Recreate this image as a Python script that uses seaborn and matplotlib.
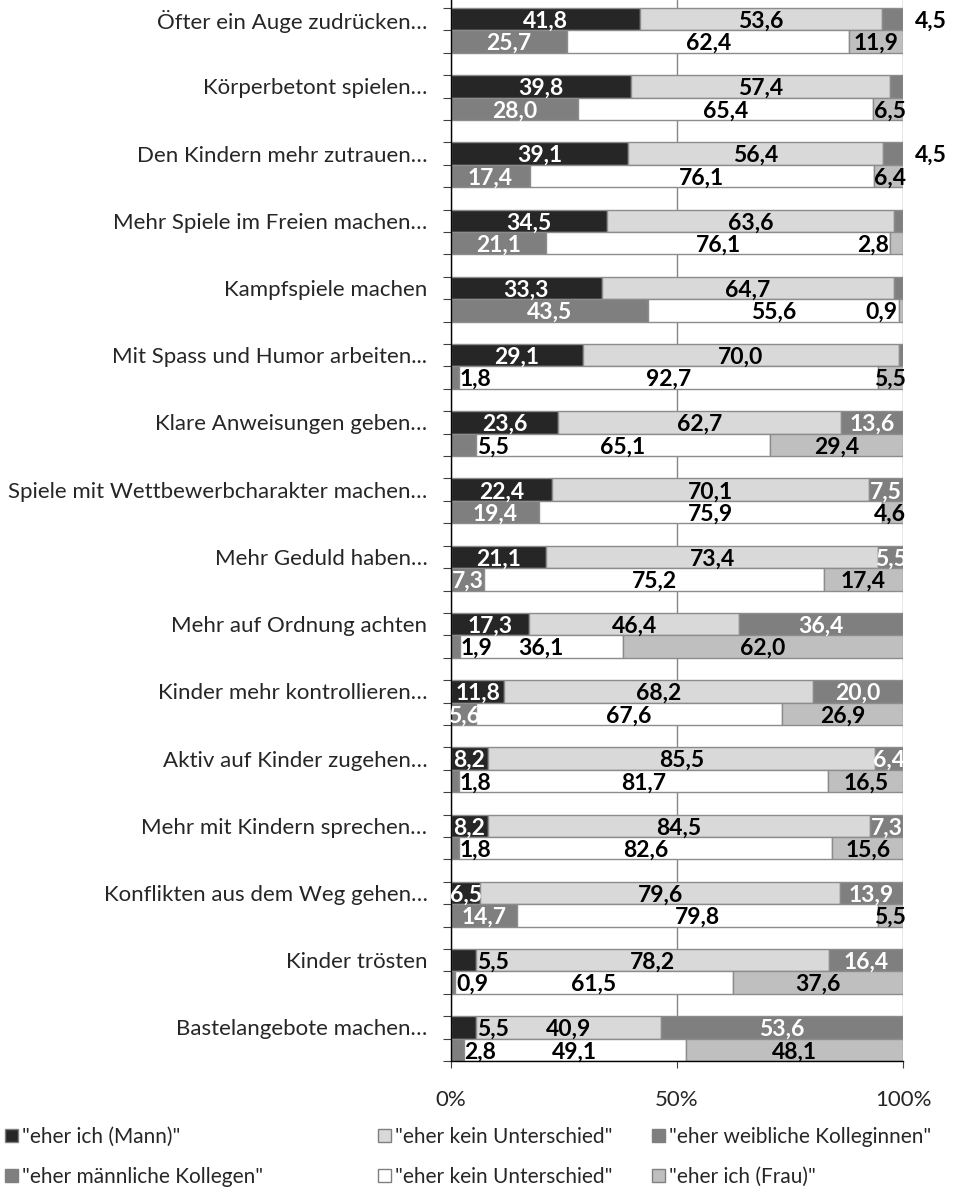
import matplotlib
matplotlib.use("Agg")
import matplotlib.pyplot as plt
import seaborn as sns
import numpy as np
from matplotlib.patches import Patch

# Kategorien (von oben nach unten)
kategorien = [
    "Öfter ein Auge zudrücken…",
    "Körperbetont spielen…",
    "Den Kindern mehr zutrauen…",
    "Mehr Spiele im Freien machen…",
    "Kampfspiele machen",
    "Mit Spass und Humor arbeiten...",
    "Klare Anweisungen geben…",
    "Spiele mit Wettbewerbcharakter machen…",
    "Mehr Geduld haben…",
    "Mehr auf Ordnung achten",
    "Kinder mehr kontrollieren…",
    "Aktiv auf Kinder zugehen…",
    "Mehr mit Kindern sprechen…",
    "Konflikten aus dem Weg gehen…",
    "Kinder trösten",
    "Bastelangebote machen…",
]

# Antworten der Männer (obere Balken)
eher_ich_mann = [41.8, 39.8, 39.1, 34.5, 33.3, 29.1, 23.6, 22.4, 21.1, 17.3, 11.8, 8.2, 8.2, 6.5, 5.5, 5.5]
kein_unterschied_m = [53.6, 57.4, 56.4, 63.6, 64.7, 70.0, 62.7, 70.1, 73.4, 46.4, 68.2, 85.5, 84.5, 79.6, 78.2, 40.9]
weibliche_kolleginnen = [4.5, 2.8, 4.5, 1.9, 2.0, 0.9, 13.6, 7.5, 5.5, 36.4, 20.0, 6.4, 7.3, 13.9, 16.4, 53.6]

# Antworten der Frauen (untere Balken)
maennliche_kollegen = [25.7, 28.0, 17.4, 21.1, 43.5, 1.8, 5.5, 19.4, 7.3, 1.9, 5.6, 1.8, 1.8, 14.7, 0.9, 2.8]
kein_unterschied_f = [62.4, 65.4, 76.1, 76.1, 55.6, 92.7, 65.1, 75.9, 75.2, 36.1, 67.6, 81.7, 82.6, 79.8, 61.5, 49.1]
eher_ich_frau = [11.9, 6.5, 6.4, 2.8, 0.9, 5.5, 29.4, 4.6, 17.4, 62.0, 26.9, 16.5, 15.6, 5.5, 37.6, 48.1]

x_ticks = [0, 50, 100]
x_ticklabels = ["0%", "50%", "100%"]

legende_m = ['"eher ich (Mann)"', '"eher kein Unterschied"', '"eher weibliche Kolleginnen"']
legende_f = ['"eher männliche Kollegen"', '"eher kein Unterschied"', '"eher ich (Frau)"']

farben_m = ["#262626", "#d9d9d9", "#7f7f7f"]
farben_f = ["#7f7f7f", "#ffffff", "#bfbfbf"]
kante = "#8c8c8c"

sns.set_theme(style="white")
plt.rcParams["font.family"] = ["Lato", "DejaVu Sans"]

fs = 16
fs_leg = 15
fs_wert = 16.5


def fmt(v):
    return f"{v:.1f}".replace(".", ",")


fig = plt.figure(figsize=(9.55, 11.93), dpi=100)
ax = fig.add_axes([451 / 955, 1 - 1061 / 1193, 452 / 955, 1061 / 1193])

n = len(kategorien)
pos_m = np.arange(n) * 3
pos_f = pos_m + 1
n_slots = 3 * n - 1

serien_m = [eher_ich_mann, kein_unterschied_m, weibliche_kolleginnen]
serien_f = [maennliche_kollegen, kein_unterschied_f, eher_ich_frau]

# Gitterlinien hinter den Balken
for xv in x_ticks:
    ax.axvline(xv, color="#868686", lw=1.0, zorder=0)

for pos, serien, farben in [(pos_m, serien_m, farben_m), (pos_f, serien_f, farben_f)]:
    links = np.zeros(n)
    for werte, farbe in zip(serien, farben):
        werte = np.array(werte)
        ax.barh(pos, werte, left=links, height=1.0, color=farbe,
                edgecolor=kante, linewidth=1.0, zorder=2)
        links = links + werte

# Datenbeschriftungen (Grundlinie leicht unter der Balkenmitte)
txt = dict(fontsize=fs_wert, fontweight="bold", va="baseline", zorder=5)
dy = 0.38
for i in range(n):
    y = pos_m[i] + dy
    a, b, c = eher_ich_mann[i], kein_unterschied_m[i], weibliche_kolleginnen[i]
    if a >= 6:
        ax.text(a / 2, y, fmt(a), color="white", ha="center", **txt)
    else:
        ax.text(a + 0.2, y, fmt(a), color="black", ha="left", **txt)
    ax.text(a + b / 2, y, fmt(b), color="black", ha="center", **txt)
    if c >= 5:
        ax.text(a + b + c / 2, y, fmt(c), color="white", ha="center", **txt)
    elif c >= 4:
        ax.text(102.7, y, fmt(c), color="black", ha="left", clip_on=False, **txt)

    y = pos_f[i] + dy
    a, b, c = maennliche_kollegen[i], kein_unterschied_f[i], eher_ich_frau[i]
    if a > 5.5:
        ax.text(a / 2, y, fmt(a), color="white", ha="center", **txt)
    else:
        ax.text(a + 0.2, y, fmt(a), color="black", ha="left", **txt)
    ax.text(a + b / 2, y, fmt(b), color="black", ha="center", **txt)
    if c >= 7:
        ax.text(a + b + c / 2, y, fmt(c), color="black", ha="center", **txt)
    elif c < 3:
        ax.text(a + b - 0.3, y, fmt(c), color="black", ha="right", **txt)
    else:
        ax.text(100.6, y, fmt(c), color="black", ha="right", clip_on=False, **txt)

ax.set_xlim(0, 100)
ax.set_ylim(n_slots - 0.5, -0.5 - 8 / 22.4)

ax.set_yticks(pos_m)
ax.set_yticklabels(kategorien, fontsize=fs)
ax.set_yticks(np.arange(n_slots + 1) - 0.5, minor=True)
ax.tick_params(axis="y", which="major", length=0, pad=17)
ax.tick_params(axis="y", which="minor", length=6, width=0.8, color="#404040", left=True)

ax.set_xticks(x_ticks)
ax.set_xticklabels(x_ticklabels, fontsize=fs)
ax.tick_params(axis="x", which="major", length=5, width=0.8, color="#404040",
               bottom=True, pad=16)

for s in ["top", "right"]:
    ax.spines[s].set_visible(False)
for s in ["left", "bottom"]:
    ax.spines[s].set_color("black")
    ax.spines[s].set_linewidth(1.0)
ax.grid(False)

# Legende in drei Spalten
spalten_x = [5 / 955, 378 / 955, 652 / 955]
for k in range(3):
    handles = [Patch(facecolor=farben_m[k], edgecolor="#7f7f7f", label=legende_m[k]),
               Patch(facecolor=farben_f[k], edgecolor="#7f7f7f", label=legende_f[k])]
    fig.legend(handles=handles, loc="upper left", bbox_to_anchor=(spalten_x[k], 1 - 1127 / 1193),
               frameon=False, fontsize=fs_leg, handlelength=0.6, handleheight=0.6,
               handletextpad=0.2, labelspacing=0.95, borderaxespad=0, borderpad=0)

fig.savefig("out.png", dpi=100)
